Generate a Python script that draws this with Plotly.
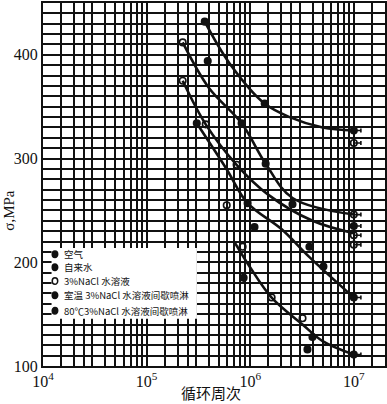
import plotly.graph_objects as go

# ---- axis grid / tick data ----
decades = [1e4, 1e5, 1e6, 1e7]
decade_labels = ["10<sup>4</sup>", "10<sup>5</sup>", "10<sup>6</sup>", "10<sup>7</sup>"]
minor_mult = [1.5, 2, 2.5, 3, 4, 5, 6, 7, 8, 9]
x_minor = [d * m for d in [1e4, 1e5, 1e6] for m in minor_mult] + [1.5e7, 2e7]
y_major = [100, 200, 300, 400]
y_minor = list(range(100, 451, 10))

# ---- data points (N, sigma MPa) ----
air_N = [3.64e5, 3.89e5, 1.38e6, 1.0e7]
air_S = [432, 394, 353, 327]
tap_N = [8.26e5, 1.41e6, 2.56e6, 1.0e7]
tap_S = [334, 295, 256, 235]
nacl_N = [2.23e5, 2.23e5, 3.72e5, 7.39e5, 5.93e5, 8.45e5, 1.61e6, 3.2e6, 1.0e7, 1.0e7, 1.0e7, 1.0e7]
nacl_S = [412, 375, 333, 294, 255, 215, 166, 146, 315, 246, 226, 217]
spray_N = [3.05e5, 9.44e5, 1.10e6, 3.73e6, 5.09e6, 1.0e7]
spray_S = [334, 257, 234, 215, 196, 166]
hot_N = [8.64e5, 3.99e6, 3.57e6, 1.0e7]
hot_S = [185, 128, 116, 111]

# run-outs (not broken) at 1e7 cycles
runout_N = [1.0e7] * 8
runout_S = [327, 315, 246, 235, 226, 217, 166, 111]
runout_len = [1.7e6] * 8

# ---- S-N curves ----
curveA_N = [3.64e5, 6.3e5, 1.38e6, 2.4e6, 5.0e6, 1.0e7]
curveA_S = [432, 392, 353, 340, 330, 327]
curveB_N = [2.23e5, 4.0e5, 8.26e5, 1.41e6, 2.56e6, 1.0e7]
curveB_S = [412, 368, 334, 295, 262, 246]
curveC_N = [2.23e5, 3.72e5, 7.39e5, 1.5e6, 4.0e6, 1.0e7]
curveC_S = [375, 333, 294, 265, 240, 228]
curveD_N = [3.05e5, 5.9e5, 9.44e5, 2.0e6, 3.73e6, 1.0e7]
curveD_S = [334, 290, 257, 232, 205, 166]
curveE_N = [7.1e5, 1.0e6, 1.61e6, 3.2e6, 5.0e6, 1.0e7]
curveE_S = [219, 195, 166, 140, 124, 111]

legend_names = ["空气", "自来水", "3%NaCl 水溶液", "室温 3%NaCl 水溶液间歇喷淋", "80℃3%NaCl 水溶液间歇喷淋"]
legend_open = [False, False, True, False, False]

fig = go.Figure()

for cn, cs in [(curveA_N, curveA_S), (curveB_N, curveB_S), (curveC_N, curveC_S),
               (curveD_N, curveD_S), (curveE_N, curveE_S)]:
    fig.add_trace(go.Scatter(x=cn, y=cs, mode="lines",
                             line=dict(color="#111", width=2.6, shape="spline", smoothing=1.0),
                             showlegend=False, hoverinfo="skip"))

# run-out arrows as one-sided horizontal error bars
fig.add_trace(go.Scatter(x=runout_N, y=runout_S, mode="markers", showlegend=False, hoverinfo="skip",
                         marker=dict(size=2, color="rgba(0,0,0,0)"),
                         error_x=dict(type="data", symmetric=False, array=runout_len,
                                      arrayminus=[0] * len(runout_N), color="#111",
                                      thickness=1.6, width=2)))

series = [(air_N, air_S, False), (tap_N, tap_S, False), (nacl_N, nacl_S, True),
          (spray_N, spray_S, False), (hot_N, hot_S, False)]
for (xs, ys, op), name in zip(series, legend_names):
    fig.add_trace(go.Scatter(x=xs, y=ys, mode="markers", name=name, showlegend=False,
                             marker=dict(symbol="circle-open" if op else "circle", size=6.5,
                                         color="#111", line=dict(width=1.6, color="#111"))))

# ---- axes ----
fig.update_xaxes(type="log", range=[4, 7.30103], tickmode="array", tickvals=decades,
                 ticktext=decade_labels, automargin=False,
                 showgrid=True, gridcolor="#111", gridwidth=2, ticks="",
                 minor=dict(tickmode="array", tickvals=x_minor, showgrid=True,
                            gridcolor="#111", gridwidth=2, ticks=""),
                 showline=True, linecolor="#111", linewidth=2, mirror=True,
                 tickfont=dict(family="Liberation Serif", size=16, color="#111"),
                 zeroline=False)
fig.update_yaxes(range=[100, 450], tickmode="array", tickvals=y_major,
                 ticktext=[str(v) for v in y_major], automargin=False,
                 showgrid=True, gridcolor="#111", gridwidth=2, ticks="",
                 minor=dict(tickmode="array", tickvals=y_minor, showgrid=True,
                            gridcolor="#111", gridwidth=2, ticks=""),
                 showline=True, linecolor="#111", linewidth=2, mirror=True,
                 tickfont=dict(family="Liberation Serif", size=16, color="#111"),
                 zeroline=False)

# axis titles
fig.add_annotation(xref="paper", yref="paper", x=0.49, y=-0.074, text="循环周次", showarrow=False,
                   xanchor="center", yanchor="middle",
                   font=dict(family="Noto Sans CJK SC", size=15, color="#111"))
fig.add_annotation(xref="paper", yref="paper", x=-0.1, y=0.43, text="σ,MPa", showarrow=False,
                   textangle=-90, xanchor="center", yanchor="middle",
                   font=dict(family="Liberation Serif", size=15, color="#111"))

# ---- legend drawn as a white panel with markers and labels ----
fig.add_shape(type="rect", xref="paper", yref="paper", x0=0.025, x1=0.45, y0=0.13, y1=0.325,
              fillcolor="white", line=dict(width=0), layer="above")
row_y = [0.308, 0.272, 0.234, 0.195, 0.152]
for i, (name, op) in enumerate(zip(legend_names, legend_open)):
    fig.add_shape(type="circle", xref="paper", yref="paper", x0=0.027, x1=0.043,
                  y0=row_y[i] - 0.009, y1=row_y[i] + 0.009,
                  fillcolor="white" if op else "#111", line=dict(color="#111", width=1.5), layer="above")
    fig.add_annotation(xref="paper", yref="paper", x=0.055, y=row_y[i], text=name, showarrow=False,
                       xanchor="left", yanchor="middle",
                       font=dict(family="Noto Sans CJK SC", size=9.5, color="#111"))

fig.update_layout(width=387, height=404, margin=dict(l=43, r=2, t=3, b=38, autoexpand=False),
                  plot_bgcolor="white", paper_bgcolor="white", showlegend=False)

fig.write_html("out.html", config={"displayModeBar": False},
               post_script="document.body.style.margin='0';document.body.style.overflow='hidden';")
